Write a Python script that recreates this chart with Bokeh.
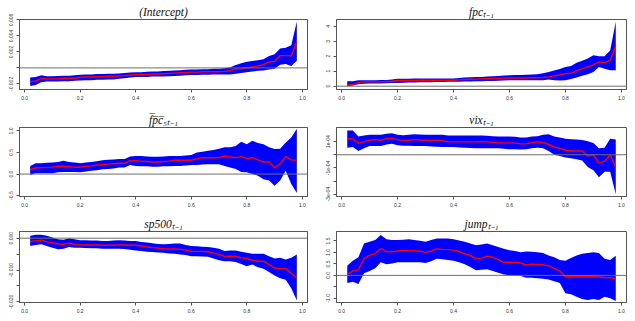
from bokeh.plotting import figure
from bokeh.layouts import gridplot
from bokeh.models import Range1d, FixedTicker, CustomJSTickFormatter, Span, PrintfTickFormatter
from bokeh.embed import file_html
from bokeh.resources import INLINE

taus = [0.02, 0.04, 0.06, 0.08, 0.10, 0.12, 0.14, 0.16, 0.18, 0.20,
        0.22, 0.24, 0.26, 0.28, 0.30, 0.32, 0.34, 0.36, 0.38, 0.40,
        0.42, 0.44, 0.46, 0.48, 0.50, 0.52, 0.54, 0.56, 0.58, 0.60,
        0.62, 0.64, 0.66, 0.68, 0.70, 0.72, 0.74, 0.76, 0.78, 0.80,
        0.82, 0.84, 0.86, 0.88, 0.90, 0.92, 0.94, 0.96, 0.98]

# (Intercept)
int_est = [-0.00174, -0.00162, -0.00133, -0.00137, -0.00137, -0.00137, -0.00129, -0.00129, -0.00129, -0.00117,
           -0.00113, -0.00113, -0.00109, -0.00109, -0.00105, -0.00105, -0.00101, -0.00097, -0.00089, -0.00081,
           -0.00081, -0.00081, -0.00077, -0.00077, -0.00073, -0.00069, -0.00065, -0.00061, -0.00057, -0.00053,
           -0.00053, -0.00048, -0.00048, -0.00048, -0.00048, -0.00044, -0.00036, -0.00016, -0.00012, 0.00000,
           0.00012, 0.00024, 0.00040, 0.00073, 0.00081, 0.00154, 0.00154, 0.00150, 0.00330]
int_hi = [-0.00121, -0.00113, -0.00093, -0.00105, -0.00105, -0.00101, -0.00097, -0.00097, -0.00093, -0.00085,
          -0.00081, -0.00081, -0.00077, -0.00077, -0.00073, -0.00073, -0.00069, -0.00065, -0.00057, -0.00053,
          -0.00053, -0.00048, -0.00044, -0.00044, -0.00040, -0.00036, -0.00032, -0.00028, -0.00024, -0.00020,
          -0.00020, -0.00016, -0.00016, -0.00012, -0.00012, -0.00004, 0.00008, 0.00036, 0.00057, 0.00077,
          0.00085, 0.00097, 0.00109, 0.00149, 0.00170, 0.00242, 0.00251, 0.00283, 0.00580]
int_lo = [-0.00226, -0.00214, -0.00178, -0.00170, -0.00170, -0.00170, -0.00166, -0.00166, -0.00162, -0.00158,
          -0.00154, -0.00154, -0.00149, -0.00149, -0.00145, -0.00145, -0.00137, -0.00129, -0.00121, -0.00113,
          -0.00113, -0.00113, -0.00109, -0.00109, -0.00109, -0.00105, -0.00101, -0.00097, -0.00093, -0.00089,
          -0.00089, -0.00085, -0.00085, -0.00081, -0.00081, -0.00081, -0.00081, -0.00073, -0.00065, -0.00053,
          -0.00044, -0.00036, -0.00032, -0.00020, -0.00012, 0.00040, 0.00048, 0.00024, 0.00089]

# fpc_{t-1}
fpc_est = [0.07, 0.11, 0.24, 0.29, 0.29, 0.29, 0.29, 0.31, 0.33, 0.38,
           0.38, 0.38, 0.39, 0.40, 0.40, 0.40, 0.40, 0.40, 0.40, 0.40,
           0.42, 0.44, 0.46, 0.47, 0.49, 0.50, 0.51, 0.52, 0.54, 0.55,
           0.55, 0.55, 0.55, 0.56, 0.56, 0.58, 0.62, 0.69, 0.75, 0.84,
           0.86, 1.02, 1.17, 1.28, 1.44, 1.62, 1.57, 1.73, 2.72]
fpc_hi = [0.33, 0.33, 0.40, 0.40, 0.40, 0.40, 0.41, 0.42, 0.45, 0.49,
          0.49, 0.50, 0.51, 0.51, 0.51, 0.51, 0.52, 0.52, 0.52, 0.52,
          0.55, 0.58, 0.60, 0.61, 0.62, 0.64, 0.66, 0.68, 0.71, 0.73,
          0.74, 0.75, 0.76, 0.78, 0.80, 0.86, 0.95, 1.05, 1.15, 1.28,
          1.35, 1.57, 1.70, 1.84, 2.06, 1.99, 1.99, 2.39, 4.30]
fpc_lo = [0.00, 0.04, 0.13, 0.16, 0.18, 0.18, 0.18, 0.19, 0.22, 0.22,
          0.23, 0.24, 0.25, 0.26, 0.27, 0.27, 0.28, 0.28, 0.29, 0.29,
          0.30, 0.31, 0.32, 0.33, 0.33, 0.34, 0.35, 0.36, 0.38, 0.40,
          0.40, 0.40, 0.40, 0.40, 0.40, 0.40, 0.44, 0.40, 0.38, 0.40,
          0.48, 0.58, 0.70, 0.80, 0.95, 1.28, 1.17, 1.06, 1.06]

# mean fpc5_{t-1}
fpc5_est = [0.10, 0.14, 0.15, 0.15, 0.16, 0.18, 0.18, 0.17, 0.16, 0.16,
            0.18, 0.19, 0.21, 0.22, 0.23, 0.24, 0.25, 0.25, 0.31, 0.31,
            0.30, 0.29, 0.28, 0.28, 0.29, 0.30, 0.32, 0.32, 0.32, 0.32,
            0.35, 0.38, 0.38, 0.38, 0.38, 0.42, 0.40, 0.38, 0.41, 0.36,
            0.38, 0.33, 0.28, 0.28, 0.15, 0.23, 0.41, 0.33, 0.32]
fpc5_hi = [0.19, 0.25, 0.25, 0.26, 0.27, 0.28, 0.31, 0.28, 0.27, 0.25,
           0.27, 0.28, 0.30, 0.32, 0.33, 0.34, 0.35, 0.35, 0.41, 0.42,
           0.42, 0.41, 0.40, 0.40, 0.41, 0.42, 0.42, 0.42, 0.43, 0.44,
           0.50, 0.52, 0.54, 0.56, 0.59, 0.62, 0.62, 0.65, 0.75, 0.69,
           0.77, 0.72, 0.69, 0.62, 0.58, 0.59, 0.73, 0.85, 1.05]
fpc5_lo = [-0.02, 0.02, 0.02, 0.02, 0.02, 0.04, 0.05, 0.05, 0.05, 0.04,
           0.06, 0.08, 0.09, 0.11, 0.12, 0.13, 0.15, 0.15, 0.21, 0.19,
           0.18, 0.18, 0.17, 0.17, 0.18, 0.18, 0.19, 0.19, 0.20, 0.21,
           0.21, 0.22, 0.23, 0.23, 0.23, 0.19, 0.15, 0.12, 0.05, 0.04,
           0.00, -0.04, -0.12, -0.15, -0.27, -0.15, 0.08, -0.23, -0.44]

# vix_{t-1}
vix_est = [1.22e-4, 1.22e-4, 0.88e-4, 0.98e-4, 1.10e-4, 1.15e-4, 1.10e-4, 1.22e-4, 1.24e-4, 1.15e-4,
           1.07e-4, 1.10e-4, 1.15e-4, 1.12e-4, 1.10e-4, 1.07e-4, 1.10e-4, 1.07e-4, 0.98e-4, 0.98e-4,
           0.98e-4, 0.98e-4, 0.98e-4, 0.98e-4, 1.00e-4, 0.98e-4, 0.95e-4, 0.90e-4, 0.90e-4, 0.90e-4,
           0.88e-4, 0.83e-4, 0.83e-4, 0.93e-4, 0.98e-4, 0.93e-4, 0.78e-4, 0.59e-4, 0.49e-4, 0.34e-4,
           0.29e-4, 0.29e-4, 0.29e-4, -0.10e-4, 0.00e-4, -0.63e-4, -0.49e-4, -0.02e-4, -0.93e-4]
vix_hi = [1.85e-4, 1.85e-4, 1.39e-4, 1.46e-4, 1.51e-4, 1.51e-4, 1.51e-4, 1.59e-4, 1.63e-4, 1.51e-4,
          1.49e-4, 1.51e-4, 1.56e-4, 1.54e-4, 1.51e-4, 1.51e-4, 1.51e-4, 1.51e-4, 1.46e-4, 1.46e-4,
          1.46e-4, 1.46e-4, 1.46e-4, 1.46e-4, 1.46e-4, 1.44e-4, 1.41e-4, 1.39e-4, 1.39e-4, 1.39e-4,
          1.37e-4, 1.32e-4, 1.32e-4, 1.39e-4, 1.41e-4, 1.51e-4, 1.56e-4, 1.39e-4, 1.32e-4, 1.22e-4,
          1.17e-4, 1.15e-4, 1.12e-4, 1.02e-4, 0.90e-4, 0.49e-4, 0.54e-4, 1.22e-4, 1.15e-4]
vix_lo = [0.54e-4, 0.59e-4, 0.29e-4, 0.49e-4, 0.66e-4, 0.66e-4, 0.66e-4, 0.78e-4, 0.83e-4, 0.73e-4,
          0.68e-4, 0.68e-4, 0.66e-4, 0.66e-4, 0.66e-4, 0.63e-4, 0.61e-4, 0.59e-4, 0.59e-4, 0.59e-4,
          0.56e-4, 0.54e-4, 0.51e-4, 0.49e-4, 0.49e-4, 0.49e-4, 0.49e-4, 0.49e-4, 0.46e-4, 0.41e-4,
          0.41e-4, 0.39e-4, 0.41e-4, 0.49e-4, 0.54e-4, 0.49e-4, 0.29e-4, 0.00e-4, -0.10e-4, -0.20e-4,
          -0.27e-4, -0.34e-4, -0.44e-4, -0.93e-4, -1.17e-4, -1.71e-4, -1.29e-4, -1.29e-4, -3.00e-4]

# sp500_{t-1}
sp_est = [-0.00106, -0.00085, -0.00064, -0.00117, -0.00138, -0.00181, -0.00191, -0.00160, -0.00191, -0.00213,
          -0.00213, -0.00213, -0.00213, -0.00223, -0.00223, -0.00223, -0.00213, -0.00213, -0.00223, -0.00223,
          -0.00245, -0.00277, -0.00298, -0.00309, -0.00330, -0.00340, -0.00340, -0.00351, -0.00372, -0.00415,
          -0.00415, -0.00415, -0.00426, -0.00468, -0.00511, -0.00574, -0.00564, -0.00574, -0.00617, -0.00638,
          -0.00691, -0.00723, -0.00723, -0.00830, -0.00936, -0.00957, -0.00957, -0.01096, -0.01255]
sp_hi = [0.00074, 0.00106, 0.00106, 0.00074, 0.00021, -0.00032, -0.00053, 0.00000, -0.00032, -0.00064,
         -0.00064, -0.00074, -0.00074, -0.00085, -0.00085, -0.00074, -0.00064, -0.00074, -0.00085, -0.00085,
         -0.00117, -0.00138, -0.00160, -0.00181, -0.00191, -0.00181, -0.00170, -0.00170, -0.00213, -0.00245,
         -0.00255, -0.00266, -0.00277, -0.00298, -0.00330, -0.00404, -0.00383, -0.00383, -0.00426, -0.00457,
         -0.00489, -0.00489, -0.00489, -0.00564, -0.00638, -0.00617, -0.00670, -0.00617, -0.00511]
sp_lo = [-0.00245, -0.00213, -0.00191, -0.00245, -0.00298, -0.00351, -0.00330, -0.00277, -0.00298, -0.00298,
         -0.00309, -0.00319, -0.00319, -0.00330, -0.00330, -0.00330, -0.00330, -0.00340, -0.00362, -0.00383,
         -0.00404, -0.00426, -0.00436, -0.00447, -0.00457, -0.00479, -0.00489, -0.00511, -0.00532, -0.00564,
         -0.00564, -0.00574, -0.00585, -0.00638, -0.00691, -0.00723, -0.00723, -0.00745, -0.00809, -0.00883,
         -0.00830, -0.00915, -0.00957, -0.01064, -0.01170, -0.01255, -0.01309, -0.01574, -0.01960]

# jump_{t-1}
jump_est = [0.04, 0.19, 0.25, 0.72, 0.87, 0.94, 1.16, 1.04, 1.03, 1.06,
            1.09, 1.09, 1.07, 1.06, 1.00, 1.06, 1.15, 1.13, 1.12, 1.10,
            1.04, 0.94, 0.87, 0.72, 0.75, 0.84, 0.79, 0.69, 0.57, 0.57,
            0.57, 0.54, 0.45, 0.49, 0.48, 0.46, 0.42, 0.31, 0.19, -0.06,
            -0.06, -0.06, -0.06, -0.06, -0.06, -0.07, -0.09, -0.10, -0.13]
jump_hi = [0.42, 0.64, 0.79, 1.39, 1.46, 1.54, 1.76, 1.57, 1.54, 1.54,
           1.55, 1.57, 1.54, 1.51, 1.46, 1.54, 1.61, 1.61, 1.61, 1.57,
           1.52, 1.46, 1.39, 1.31, 1.34, 1.39, 1.31, 1.24, 1.16, 1.09,
           1.06, 1.01, 1.04, 1.03, 1.01, 0.97, 0.87, 0.79, 0.67, 0.64,
           0.76, 0.87, 0.94, 0.97, 1.01, 0.97, 0.72, 0.67, 0.85]
jump_lo = [-0.33, -0.28, -0.37, 0.09, 0.19, 0.31, 0.57, 0.49, 0.52, 0.57,
           0.57, 0.57, 0.57, 0.57, 0.54, 0.61, 0.72, 0.70, 0.67, 0.64,
           0.57, 0.49, 0.37, 0.22, 0.24, 0.27, 0.19, 0.12, 0.04, 0.01,
           0.00, -0.03, -0.10, -0.10, -0.13, -0.15, -0.18, -0.25, -0.33, -0.78,
           -0.82, -0.93, -1.03, -1.07, -1.03, -1.07, -0.93, -1.00, -1.12]

titles = ["(Intercept)", "fpc\u209c\u208b\u2081", "f\u0305p\u0305c\u0305\u2085\u209c\u208b\u2081",
          "vix\u209c\u208b\u2081", "sp500\u209c\u208b\u2081", "jump\u209c\u208b\u2081"]

x_ticks = [0.0, 0.2, 0.4, 0.6, 0.8, 1.0]

int_yticks = [-0.002, 0.0, 0.002, 0.004, 0.006]
int_ylabels = ["-0.002", "", "0.002", "0.004", "0.006"]
fpc_yticks = [0, 1, 2, 3, 4]
fpc_ylabels = ["0", "1", "2", "3", "4"]
fpc5_yticks = [-0.5, 0.0, 0.5, 1.0]
fpc5_ylabels = ["-0.5", "0.0", "0.5", "1.0"]
vix_yticks = [-3e-4, -2e-4, -1e-4, 0.0, 1e-4]
vix_ylabels = ["-3e-04", "", "-1e-04", "", "1e-04"]
sp_yticks = [-0.020, -0.015, -0.010, -0.005, 0.0]
sp_ylabels = ["-0.020", "", "-0.010", "", "0.000"]
jump_yticks = [-1.0, -0.5, 0.0, 0.5, 1.0, 1.5]
jump_ylabels = ["-1.0", "", "0.0", "0.5", "1.0", "1.5"]

panels = [
    (titles[0], int_est, int_lo, int_hi, (-0.0027, 0.00605), int_yticks, int_ylabels),
    (titles[1], fpc_est, fpc_lo, fpc_hi, (-0.22, 4.45), fpc_yticks, fpc_ylabels),
    (titles[2], fpc5_est, fpc5_lo, fpc5_hi, (-0.52, 1.08), fpc5_yticks, fpc5_ylabels),
    (titles[3], vix_est, vix_lo, vix_hi, (-3.17e-4, 2.07e-4), vix_yticks, vix_ylabels),
    (titles[4], sp_est, sp_lo, sp_hi, (-0.0202, 0.0021), sp_yticks, sp_ylabels),
    (titles[5], jump_est, jump_lo, jump_hi, (-1.18, 1.91), jump_yticks, jump_ylabels),
]

# per-row (height, border_top, border_bottom); per-col (width, border_left, border_right)
rows = [(106, 19, 17), (106, 21, 16), (109, 19, 19)]
cols = [(315, 19, 8), (320, 21, 9)]

figs = []
for i, (title, est, lo, hi, yr, yt, yl) in enumerate(panels):
    r, c = divmod(i, 2)
    h, bt, bb = rows[r]
    w, bl, br = cols[c]
    p = figure(width=w, height=h, output_backend="svg", toolbar_location=None,
               x_range=Range1d(-0.0184, 1.0184), y_range=Range1d(*yr),
               min_border_left=bl, min_border_right=br, min_border_top=bt, min_border_bottom=bb)
    p.title.text = title
    p.title.align = "center"
    p.title.text_font = "Liberation Serif"
    p.title.text_font_style = "italic"
    p.title.text_font_size = "11.5px"
    p.title.text_color = "#111111"
    p.title.standoff = 4
    p.title.offset = 0
    p.grid.visible = False
    p.outline_line_color = "#555555"
    p.outline_line_width = 1
    p.varea(x=taus, y1=lo, y2=hi, fill_color="#0000ff", fill_alpha=1.0)
    p.line(taus, est, line_color="#ff0000", line_width=1.4)
    p.add_layout(Span(location=0, dimension="width", line_color="#6e6e6e", line_width=1))

    p.xaxis.ticker = FixedTicker(ticks=x_ticks)
    p.xaxis.formatter = PrintfTickFormatter(format="%.1f")
    p.yaxis.ticker = FixedTicker(ticks=yt)
    p.yaxis.formatter = CustomJSTickFormatter(args=dict(labels=yl), code="return labels[index];")
    p.yaxis.major_label_orientation = "vertical"
    for ax in (p.xaxis, p.yaxis):
        ax.major_label_text_font = "Liberation Sans"
        ax.major_label_text_font_size = "5px"
        ax.major_label_text_color = "#333333"
        ax.major_label_standoff = 3
        ax.major_tick_in = 0
        ax.major_tick_out = 3
        ax.minor_tick_line_color = None
        ax.axis_line_color = "#555555"
        ax.major_tick_line_color = "#555555"
    figs.append(p)

grid = gridplot([[figs[0], figs[1]], [figs[2], figs[3]], [figs[4], figs[5]]],
                toolbar_location=None)

open("out.html", "w").write(file_html(grid, INLINE))
